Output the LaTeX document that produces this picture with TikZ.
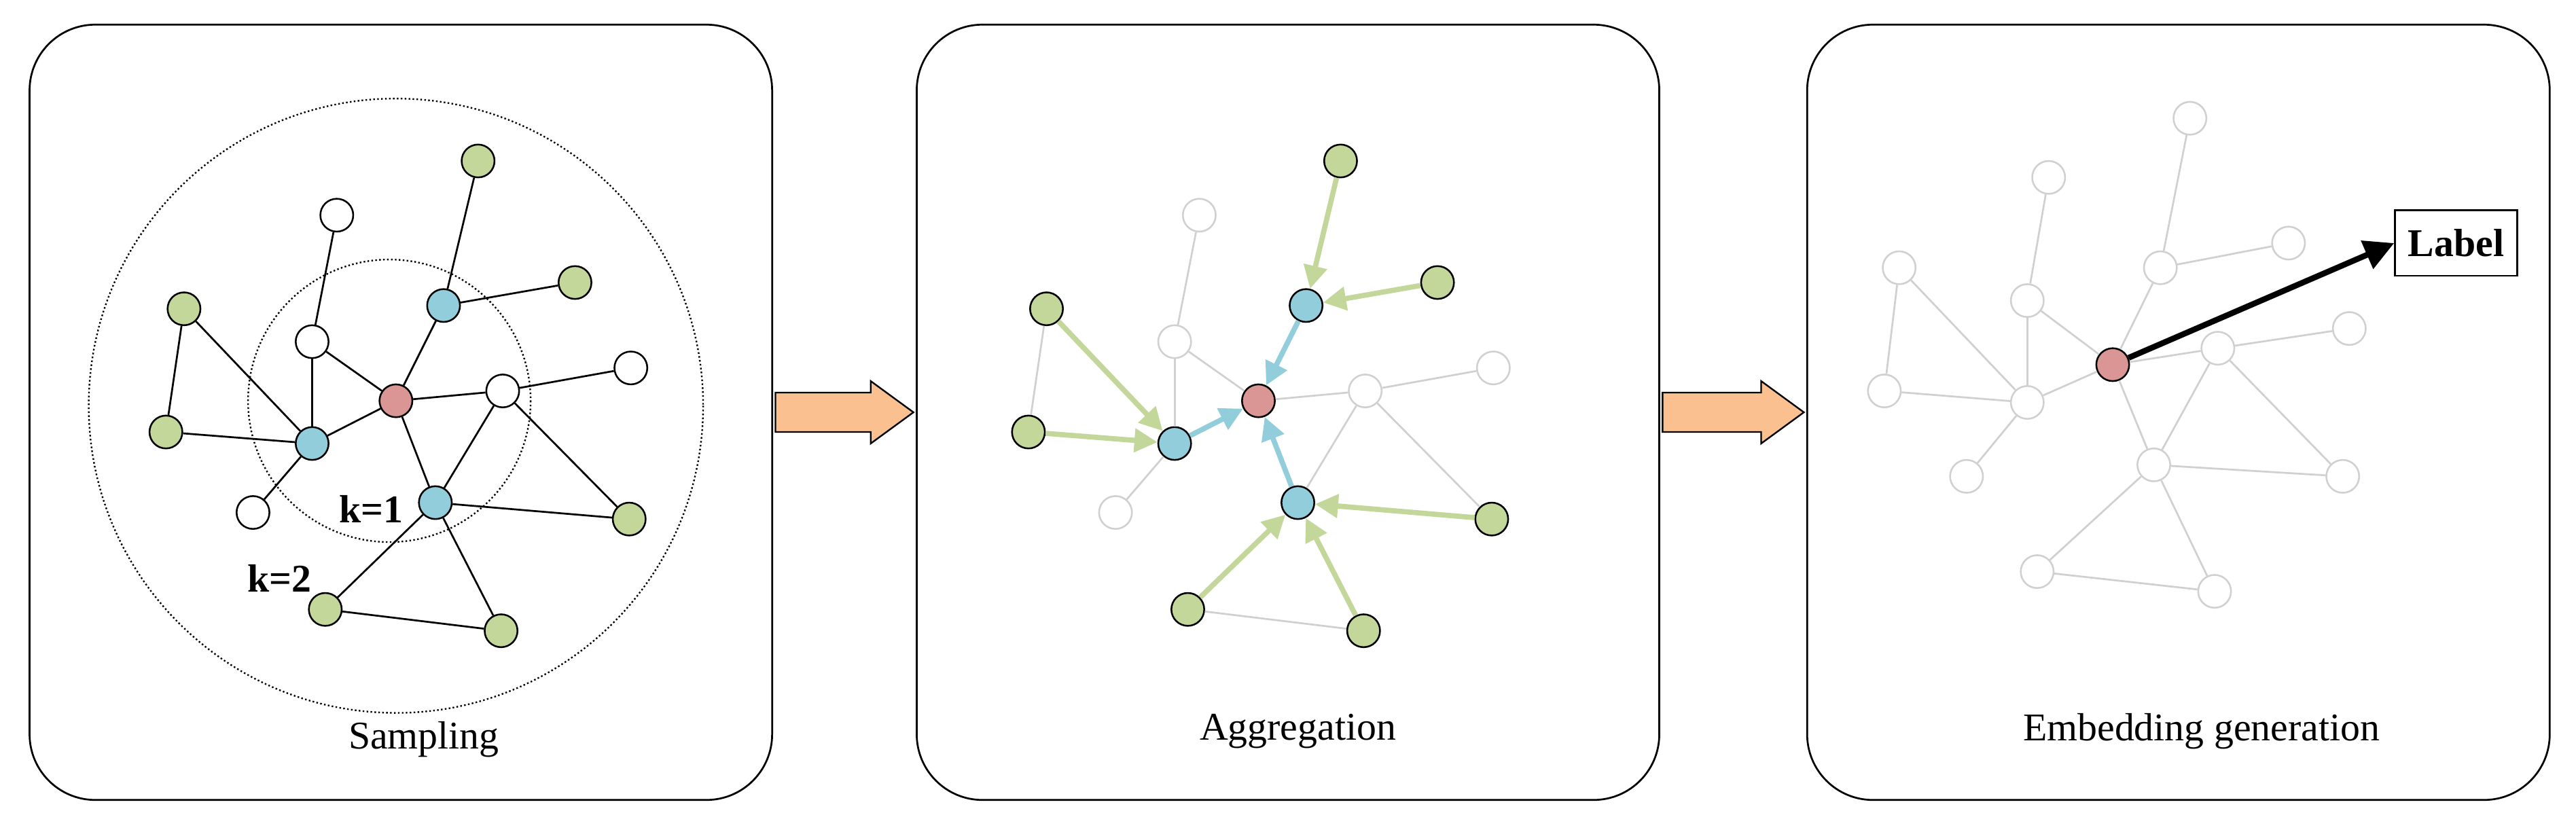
\documentclass[tikz,border=0pt]{standalone}
\usepackage{fontspec}
\setmainfont{Liberation Serif}
\usetikzlibrary{arrows.meta}
\definecolor{gr}{HTML}{C4D79B}
\definecolor{bl}{HTML}{92CDDC}
\definecolor{rd}{HTML}{D99694}
\definecolor{pe}{HTML}{FAC090}
\definecolor{lg}{HTML}{D0D0D0}
\begin{document}
\begin{tikzpicture}[x=0.5mm,y=-0.5mm,
  panel/.style={draw=black,line width=1.6pt,rounded corners=20mm},
  nd/.style={circle,draw=black,line width=1.5pt,minimum size=10mm,inner sep=0pt},
  G/.style={nd,fill=gr},B/.style={nd,fill=bl},R/.style={nd,fill=rd},W/.style={nd,fill=white},
  F/.style={nd,draw=lg,fill=white},
  ed/.style={line width=1.6pt},
  fe/.style={line width=1.6pt,draw=lg},
  ga/.style={line width=4.5pt,draw=gr,-{Triangle[length=7mm,width=7mm]}},
  ba/.style={line width=4.5pt,draw=bl,-{Triangle[length=7mm,width=7mm]}},
  txt/.style={font=\fontsize{34pt}{40pt}\selectfont},
  btxt/.style={font=\fontsize{34pt}{40pt}\selectfont\bfseries},
  blk/.style={draw=black,line width=1.4pt,fill=pe}]
\useasboundingbox (0,0) rectangle (1568,505);
\draw[panel] (18,15) rectangle (470,487);
\draw[panel] (558,15) rectangle (1010,487);
\draw[panel] (1100,15) rectangle (1552,487);
\draw[blk] (472,239)--(530,239)--(530,232)--(556,251)--(530,270)--(530,263)--(472,263)--cycle;
\draw[blk] (1012,239)--(1072,239)--(1072,232)--(1098,251)--(1072,270)--(1072,263)--(1012,263)--cycle;
% panel 1
\draw[dotted,line width=1.4pt] (241,247) circle[radius=187];
\draw[dotted,line width=1.4pt] (237,244) circle[radius=86];
\foreach \n/\x/\y/\s [evaluate=\x as \xb using \x+525] in {r/241/244/R,b1/270/186/B,b2/190/270/B,b3/265/306/B,
 w1/205/131/W,w2/190/208/W,w3/306/238/W,w4/384/224/W,w5/154/312/W,
 g1/291/98/G,g2/112/188/G,g3/350/172/G,g4/101/263/G,g5/383/316/G,g6/198/371/G,g7/305/384/G}{
  \node[\s] (a\n) at (\x,\y) {};
}
\foreach \n/\x/\y/\s in {r/241/244/R,b1/270/186/B,b2/190/270/B,b3/265/306/B,
 w1/205/131/F,w2/190/208/F,w3/306/238/F,w4/384/224/F,w5/154/312/F,
 g1/291/98/G,g2/112/188/G,g3/350/172/G,g4/101/263/G,g5/383/316/G,g6/198/371/G,g7/305/384/G}{
  \node[\s] (b\n) at (\x+525,\y) {};
}
\foreach \u/\v in {r/b1,b1/g1,b1/g3,r/b2,r/w2,r/w3,r/b3,w2/w1,w2/b2,g2/b2,g2/g4,g4/b2,b2/w5,w3/w4,w3/g5,w3/b3,b3/g5,b3/g6,b3/g7,g6/g7}{
  \draw[ed] (a\u)--(a\v);
}
\node[btxt] (k1) at (226,310) {k=1};
\node[btxt] (k2) at (170,352) {k=2};
\node[txt] (t1) at (258,450) {Sampling};
% panel 2
\foreach \u/\v in {r/w2,r/w3,w2/w1,w2/b2,g2/g4,b2/w5,w3/w4,w3/g5,w3/b3,g6/g7}{
  \draw[fe] (b\u)--(b\v);
}
\foreach \u/\v in {g1/b1,g3/b1,g2/b2,g4/b2,g5/b3,g6/b3,g7/b3}{
  \draw[ga] (b\u)--(b\v);
}
\foreach \u in {b1,b2,b3}{
  \draw[ba] (b\u)--(br);
}
\node[txt] (t2) at (790,445) {Aggregation};
% panel 3
\foreach \n/\x/\y/\s in {r/1286/222/R,b1/1315/163/F,b2/1234/245/F,b3/1311/283/F,
 w1/1247/108/F,w2/1234/183/F,w3/1350/212/F,w4/1430/200/F,w5/1197/290/F,
 g1/1333/72/F,g2/1156/163/F,g3/1393/148/F,g4/1147/238/F,g5/1426/290/F,g6/1240/348/F,g7/1348/360/F}{
  \node[\s] (c\n) at (\x,\y) {};
}
\foreach \u/\v in {r/b1,b1/g1,b1/g3,r/b2,r/w2,r/w3,r/b3,w2/w1,w2/b2,g2/b2,g2/g4,g4/b2,b2/w5,w3/w4,w3/g5,w3/b3,b3/g5,b3/g6,b3/g7,g6/g7}{
  \draw[fe] (c\u)--(c\v);
}
\node[btxt,draw=black,line width=1.4pt,inner sep=4mm,minimum height=20mm] (lab) at (1495,148) {Label};
\draw[line width=5pt,-{Triangle[length=9mm,width=9mm]}] (cr)--(lab.west);
\node[txt] (t3) at (1340,445) {Embedding generation};
\end{tikzpicture}
\end{document}
